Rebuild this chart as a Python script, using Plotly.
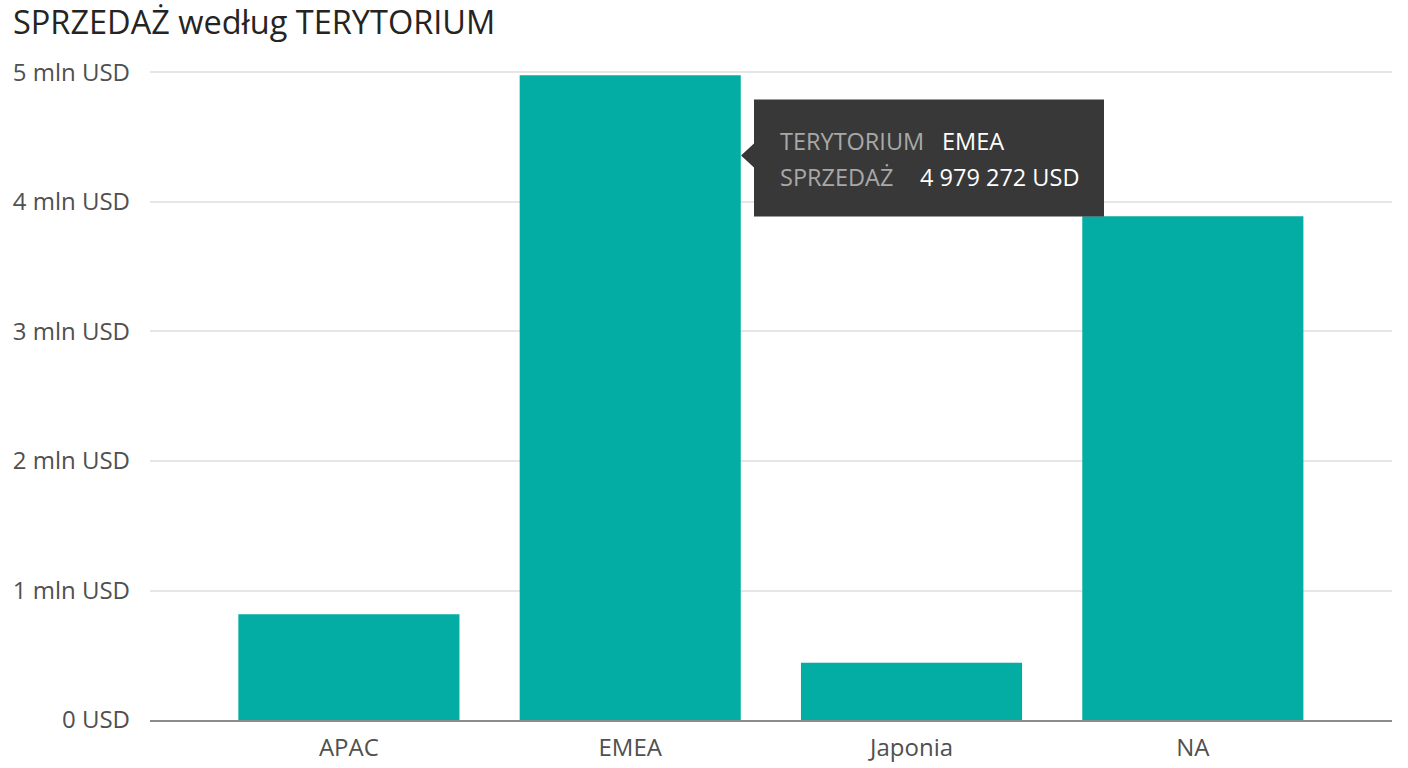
import plotly.graph_objects as go

# data
territories = ["APAC", "EMEA", "Japonia", "NA"]
sales = [816000, 4979272, 442000, 3890000]
tick_vals = [0, 1e6, 2e6, 3e6, 4e6, 5e6]
tick_text = ["0 USD", "1 mln USD", "2 mln USD", "3 mln USD", "4 mln USD", "5 mln USD"]

W, H = 1408, 768
ML, MR, MT, MB = 150, 16, 65.5, 48
FONT = "Open Sans"
BAR = "#04ADA3"

# pixel -> paper helpers for the tooltip decoration
def px(x):
    return (x - ML) / (W - ML - MR)

def py(y):
    return (H - MB - y) / (H - MT - MB)

fig = go.Figure(go.Bar(
    x=territories, y=sales, width=0.786,
    marker=dict(color=BAR, line=dict(width=0)),
    hovertemplate="TERYTORIUM %{x}<br>SPRZEDAŻ %{y:,.0f} USD<extra></extra>",
))

# tooltip box like the one hovering EMEA
hover_i = 1
fig.add_shape(type="rect", xref="paper", yref="paper",
              x0=px(754), x1=px(1104), y0=py(216), y1=py(99),
              fillcolor="#383838", line=dict(width=0), layer="above")
fig.add_shape(type="path", xref="paper", yref="paper",
              path=f"M {px(754)} {py(143)} L {px(741)} {py(155)} L {px(754)} {py(167)} Z",
              fillcolor="#383838", line=dict(width=0), layer="above")
value_txt = f"{sales[hover_i]:,}".replace(",", " ") + " USD"
rows = [("TERYTORIUM", territories[hover_i], 141, 940), ("SPRZEDAŻ", value_txt, 177, 918)]
for lab, val, yy, vx in rows:
    fig.add_annotation(xref="paper", yref="paper", x=px(778), y=py(yy),
                       xanchor="left", yanchor="middle", showarrow=False, text=lab,
                       font=dict(family=FONT, size=23.5, color="#A8A8A8"))
    fig.add_annotation(xref="paper", yref="paper", x=px(vx), y=py(yy),
                       xanchor="left", yanchor="middle", showarrow=False, text=val,
                       font=dict(family=FONT, size=23.5, color="#FFFFFF"))

fig.update_layout(
    width=W, height=H,
    margin=dict(l=ML, r=MR, t=MT, b=MB),
    paper_bgcolor="white", plot_bgcolor="white",
    font=dict(family=FONT, color="#505050"),
    showlegend=False, bargap=0.2,
    title=dict(text="SPRZEDAŻ według TERYTORIUM", xref="container", yref="container",
               x=13 / W, y=1 - 23 / H, xanchor="left", yanchor="middle",
               font=dict(family=FONT, size=32.5, color="#252423")),
    xaxis=dict(range=[-0.707, 3.708], showgrid=False, showline=True,
               linecolor="#8C8C8C", linewidth=1.5, ticks="", automargin=False,
               tickfont=dict(family=FONT, size=24, color="#505050"),
               ticklabelstandoff=5),
    yaxis=dict(range=[0, 5.05e6], tickvals=tick_vals, ticktext=tick_text,
               showgrid=True, gridcolor="#E6E6E6", gridwidth=1.5, automargin=False,
               zeroline=False, showline=False, ticks="",
               tickfont=dict(family=FONT, size=24, color="#505050"),
               ticklabelstandoff=19),
)

# drop the default 8px page margin so the figure fills the window
fig.write_html("out.html", config={"displayModeBar": False},
               post_script="document.body.style.margin='0';")
